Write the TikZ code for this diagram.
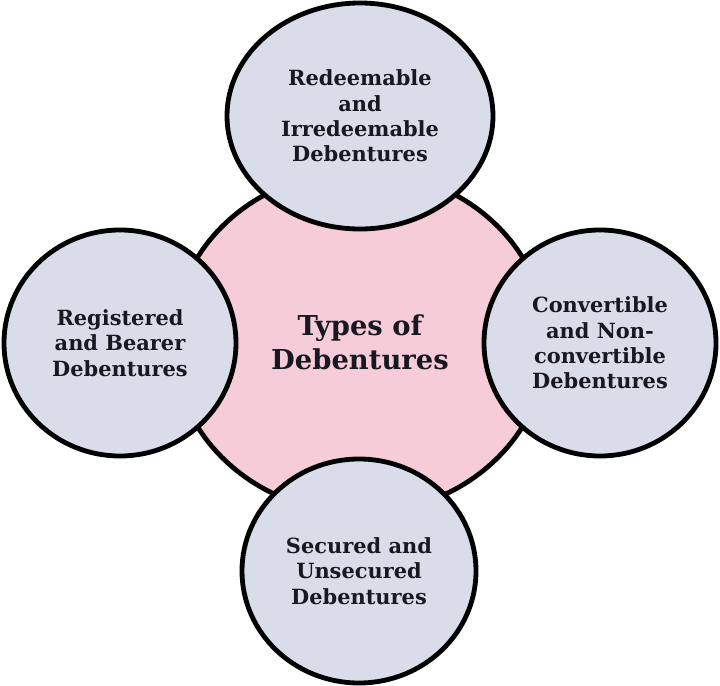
\documentclass[tikz,border=0pt]{standalone}
\usepackage{fontspec}
\setmainfont{DejaVu Serif}
\usetikzlibrary{shapes.geometric}
\definecolor{bluegray}{RGB}{217,220,233}
\definecolor{pinkfill}{RGB}{246,204,216}
\definecolor{txt}{RGB}{24,24,32}
\tikzset{
  typebox/.style={ellipse, draw=black, line width=4.8bp, fill=bluegray, inner sep=0pt,
    align=center, text=txt, font=\bfseries\fontsize{21}{25.5}\selectfont},
  centerbox/.style={ellipse, draw=black, line width=4.8bp, fill=pinkfill, inner sep=0pt,
    align=center, text=txt, font=\bfseries\fontsize{27.5}{34}\selectfont}
}
\begin{document}
\begin{tikzpicture}[x=1bp,y=-1bp]
\useasboundingbox (0,0) rectangle (720,686);
\node[centerbox, minimum width=374bp, minimum height=342bp] (c) at (360,342) {Types of\\Debentures};
\node[typebox, minimum width=266bp, minimum height=226bp] (t) at (360,116) {Redeemable\\and\\Irredeemable\\Debentures};
\node[typebox, minimum width=232bp, minimum height=226bp] (l) at (120,343) {Registered\\and Bearer\\Debentures};
\node[typebox, minimum width=232bp, minimum height=226bp] (r) at (600,343) {Convertible\\and Non-\\convertible\\Debentures};
\node[typebox, minimum width=234bp, minimum height=224bp] (b) at (359,571) {Secured and\\Unsecured\\Debentures};
\end{tikzpicture}
\end{document}
